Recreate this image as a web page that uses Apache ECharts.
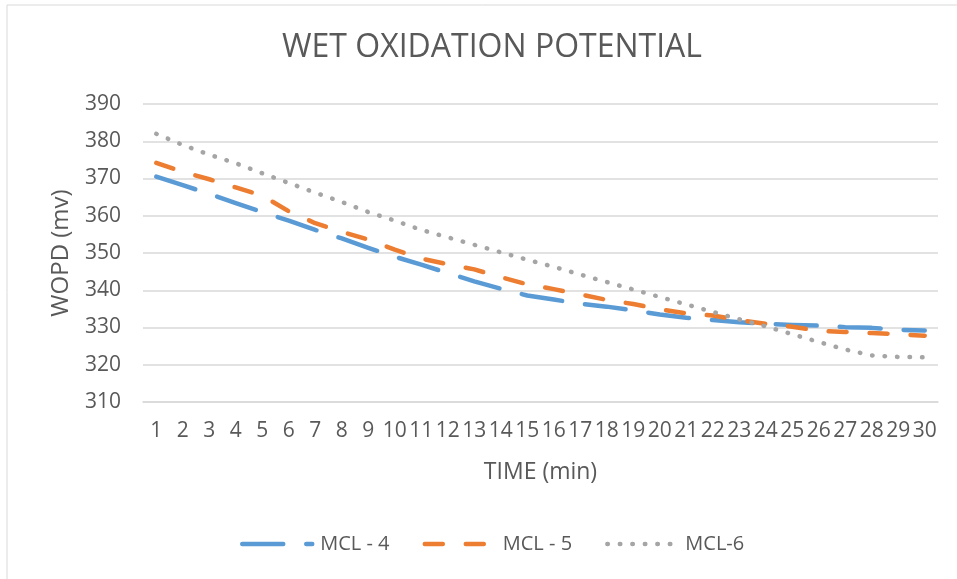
<!DOCTYPE html>
<html>
<head>
<meta charset="utf-8">
<script src="https://cdn.jsdelivr.net/npm/echarts@6/dist/echarts.min.js"></script>
<style>
  html, body { margin: 0; padding: 0; background: #ffffff; }
  #chart { width: 957px; height: 579px; }
</style>
</head>
<body>
<div id="chart"></div>
<script>
// Time steps (minutes)
const categories = ['1','2','3','4','5','6','7','8','9','10','11','12','13','14','15',
                    '16','17','18','19','20','21','22','23','24','25','26','27','28','29','30'];

// Wet oxidation potential (mV) per sample
const mcl4 = [370.5, 368.2, 365.9, 363.4, 361.0, 358.7, 356.2, 353.9, 351.4, 349.0,
              346.9, 344.6, 342.4, 340.4, 338.6, 337.5, 336.4, 335.6, 334.6, 333.5,
              332.6, 332.0, 331.4, 331.0, 330.7, 330.5, 330.1, 329.9, 329.4, 329.2];
const mcl5 = [374.2, 371.8, 369.8, 367.6, 365.4, 361.2, 358.0, 355.7, 353.6, 350.9,
              348.5, 347.0, 345.6, 343.5, 341.6, 340.3, 338.9, 337.4, 336.3, 334.9,
              333.8, 333.2, 332.0, 331.0, 330.2, 329.1, 328.8, 328.5, 328.2, 327.8];
const mcl6 = [382.0, 379.0, 376.4, 374.1, 371.4, 368.8, 366.2, 363.7, 361.0, 358.7,
              356.2, 354.2, 352.2, 350.2, 348.2, 346.3, 344.2, 342.2, 340.2, 338.2,
              336.2, 334.2, 332.2, 330.3, 328.2, 326.1, 324.1, 322.5, 322.1, 322.0];

const seriesNames = ['MCL - 4', 'MCL - 5', 'MCL-6'];
const yTicks = { min: 310, max: 390, step: 10 };

const FONT = '"Open Sans", "Liberation Sans", sans-serif';
const TEXT = '#595959';
const GRID = '#D9D9D9';

const chart = echarts.init(document.getElementById('chart'), null, { renderer: 'canvas' });

function lineSeries(name, data, color, dash) {
  return {
    name: name,
    type: 'line',
    data: data,
    symbol: 'none',
    showSymbol: false,
    smooth: false,
    lineStyle: { color: color, width: 4.5, type: dash, cap: 'round', join: 'round' },
    itemStyle: { color: color }
  };
}

chart.setOption({
  animation: false,
  backgroundColor: '#ffffff',
  graphic: [{
    type: 'rect',
    shape: { x: 7, y: 5, width: 1000, height: 620 },
    style: { fill: 'none', stroke: GRID, lineWidth: 1 },
    silent: true,
    z: -10
  }],
  title: {
    text: 'WET OXIDATION POTENTIAL',
    left: 277,
    top: 27,
    textStyle: { fontFamily: FONT, fontSize: 32, fontWeight: 'normal', color: TEXT }
  },
  grid: { left: 143, right: 19, top: 104, bottom: 177, containLabel: false },
  legend: {
    bottom: 20,
    left: 235,
    itemWidth: 70,
    itemHeight: 12,
    itemGap: 33,
    itemStyle: { opacity: 0 },
    lineStyle: { width: 4.5, cap: 'round' },
    textStyle: { fontFamily: FONT, fontSize: 20, color: TEXT, padding: [0, 0, 0, 3] },
    data: seriesNames
  },
  xAxis: {
    type: 'category',
    data: categories,
    boundaryGap: true,
    name: 'TIME (min)',
    nameLocation: 'middle',
    nameGap: 59,
    nameTextStyle: { fontFamily: FONT, fontSize: 23, color: TEXT },
    axisLine: { lineStyle: { color: GRID, width: 1.5 } },
    axisTick: { show: false },
    axisLabel: { fontFamily: FONT, fontSize: 21, color: TEXT, interval: 0, margin: 19 },
    splitLine: { show: false }
  },
  yAxis: {
    type: 'value',
    min: yTicks.min,
    max: yTicks.max,
    interval: yTicks.step,
    name: 'WOPD (mv)',
    nameLocation: 'middle',
    nameGap: 70,
    nameRotate: 90,
    nameTextStyle: { fontFamily: FONT, fontSize: 24, color: TEXT },
    axisLine: { show: false },
    axisTick: { show: false },
    axisLabel: { fontFamily: FONT, fontSize: 21, color: TEXT, margin: 22 },
    splitLine: { lineStyle: { color: GRID, width: 1.5 } }
  },
  series: [
    lineSeries(seriesNames[0], mcl4, '#5B9BD5', [41, 23]),
    lineSeries(seriesNames[1], mcl5, '#ED7D31', [18, 23]),
    lineSeries(seriesNames[2], mcl6, '#A5A5A5', [0.5, 12])
  ]
});
</script>
</body>
</html>
